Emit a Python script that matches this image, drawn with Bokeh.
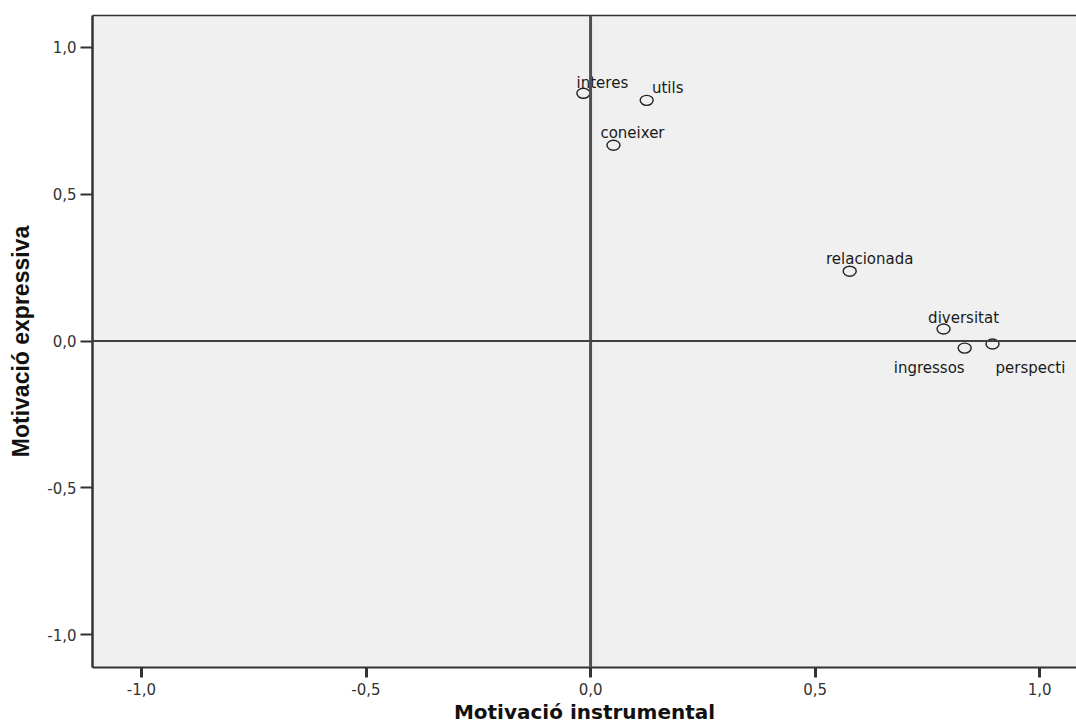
from bokeh.plotting import figure
from bokeh.models import LinearAxis, FixedTicker, Span, ColumnDataSource, Range1d
from bokeh.embed import file_html
from bokeh.resources import INLINE
from bokeh.core.properties import value

# Component loadings
items = ["interes", "utils", "coneixer", "relacionada", "diversitat", "ingressos", "perspecti"]
instrumental = [-0.016, 0.125, 0.051, 0.577, 0.786, 0.833, 0.895]
expressiva = [0.844, 0.820, 0.667, 0.238, 0.041, -0.024, -0.010]

tick_values = [-1.0, -0.5, 0.0, 0.5, 1.0]
tick_labels = ["-1,0", "-0,5", "0,0", "0,5", "1,0"]

# label placement (pixel offsets and alignment) for each point label
label_dx = [19, 21, 19, 20, 20, 0, 3]
label_dy = [-10, -12, -12, -12, -11, 20, 24]
label_align = ["center", "center", "center", "center", "center", "right", "left"]

SANS = "DejaVu Sans"
ARIAL = "Liberation Sans"
INK = "#333333"

p = figure(width=1076, height=726, output_backend="svg", toolbar_location=None,
           x_range=Range1d(-1.109, 1.082), y_range=Range1d(-1.112, 1.109),
           x_axis_location=None, y_axis_location=None,
           min_border_left=92, min_border_right=0, min_border_top=15, min_border_bottom=58)
p.background_fill_color = "#F0F0F0"
p.border_fill_color = "white"
p.outline_line_color = None
p.xgrid.visible = False
p.ygrid.visible = False


def styled_axis(axis, label):
    axis.ticker = FixedTicker(ticks=tick_values)
    axis.major_label_overrides = {v: t for v, t in zip(tick_values, tick_labels)}
    axis.axis_line_color = INK
    axis.major_tick_line_color = INK
    axis.major_tick_in = 0
    axis.minor_tick_line_color = None
    axis.major_label_text_font = SANS
    axis.major_label_text_font_size = "15px"
    axis.major_label_text_color = INK
    axis.axis_label = label
    axis.axis_label_text_font_style = "bold"
    axis.axis_label_text_color = "#111111"
    return axis


xaxis = styled_axis(LinearAxis(), "Motivació instrumental")
xaxis.axis_line_width = 2
xaxis.major_tick_out = 10
xaxis.major_tick_line_width = 3
xaxis.major_label_standoff = 5
xaxis.axis_label_standoff = 2
xaxis.axis_label_text_font = SANS
xaxis.axis_label_text_font_size = "20px"

yaxis = styled_axis(LinearAxis(), "Motivació expressiva")
yaxis.axis_line_width = 2.5
yaxis.major_tick_out = 12
yaxis.major_tick_line_width = 2
yaxis.major_label_standoff = 4
yaxis.axis_label_standoff = 10
yaxis.axis_label_text_font = ARIAL
yaxis.axis_label_text_font_size = "23px"

p.add_layout(xaxis, "below")
p.add_layout(yaxis, "left")

# top edge of the plotting area
top = LinearAxis(ticker=FixedTicker(ticks=[]), axis_line_color=INK, axis_line_width=1.5,
                 major_label_text_font_size="0px", minor_tick_line_color=None,
                 major_tick_line_color=None)
p.add_layout(top, "above")

# reference lines through the origin
p.add_layout(Span(location=0, dimension="height", line_color="#505050", line_width=3))
p.add_layout(Span(location=0, dimension="width", line_color="#404040", line_width=2))

src = ColumnDataSource(dict(x=instrumental, y=expressiva, name=items,
                            dx=label_dx, dy=label_dy, align=label_align))
p.ellipse("x", "y", source=src, width=13, height=10, width_units="screen",
          height_units="screen", fill_color=None, line_color="#222222", line_width=1.4)
p.text("x", "y", text="name", source=src, x_offset="dx", y_offset="dy",
       text_align="align", text_baseline="alphabetic",
       text_font=value(SANS), text_font_size="15px", text_color="#1a1a1a")

open("out.html", "w").write(file_html(p, INLINE))
